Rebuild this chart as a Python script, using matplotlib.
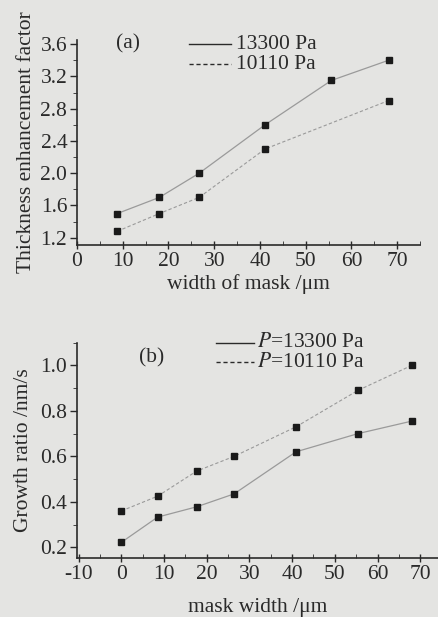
import matplotlib
import matplotlib.pyplot as plt
from matplotlib.ticker import MultipleLocator

matplotlib.use('Agg')

# (a) Thickness enhancement factor
a_x_13300 = [8.8, 18.0, 26.7, 41.1, 55.6, 68.1]
a_y_13300 = [1.50, 1.70, 2.00, 2.60, 3.15, 3.40]
a_x_10110 = [8.8, 18.0, 26.7, 41.1, 68.1]
a_y_10110 = [1.28, 1.50, 1.70, 2.30, 2.90]

# (b) Growth ratio
b_x = [0, 8.5, 17.6, 26.4, 40.9, 55.4, 68.0]
b_y_10110 = [0.36, 0.425, 0.535, 0.60, 0.73, 0.89, 1.00]
b_y_13300 = [0.222, 0.333, 0.378, 0.435, 0.62, 0.70, 0.755]

bg = '#e4e4e2'
ink = '#2a2a2a'
line_c = '#9a9a9a'
fs = 15.5

plt.rcParams.update({
    'font.family': ['Liberation Serif', 'DejaVu Serif'],
    'font.size': fs,
    'mathtext.fontset': 'stix',
    'axes.unicode_minus': False,
    'text.color': ink,
    'axes.labelcolor': ink,
    'xtick.color': ink,
    'ytick.color': ink,
})

fig = plt.figure(figsize=(4.39, 6.17), dpi=100, facecolor=bg)


def style_axes(ax):
    ax.set_facecolor(bg)
    for s in ('top', 'right'):
        ax.spines[s].set_visible(False)
    for s in ('left', 'bottom'):
        ax.spines[s].set_color(ink)
        ax.spines[s].set_linewidth(1.2)
    ax.tick_params(axis='both', which='major', labelsize=fs, width=1.0, pad=2)
    ax.tick_params(axis='x', which='major', direction='inout', length=6)
    ax.tick_params(axis='x', which='minor', direction='in', length=3)
    ax.tick_params(axis='y', which='major', direction='out', length=5)
    ax.tick_params(axis='y', which='minor', direction='out', length=3)


# ---- panel (a)
ax1 = fig.add_axes([0.1754, 0.6029, 0.7816, 0.3321])
style_axes(ax1)
ax1.plot(a_x_13300, a_y_13300, '-', color=line_c, lw=0.9)
ax1.plot(a_x_10110, a_y_10110, '--', color=line_c, lw=0.8, dashes=(3, 2))
ax1.plot(a_x_13300, a_y_13300, 's', color='#1a1a1a', ms=4.5, ls='none')
ax1.plot(a_x_10110, a_y_10110, 's', color='#1a1a1a', ms=4.5, ls='none')
ax1.set_xlim(0, 75)
ax1.set_ylim(1.11, 3.65)
ax1.xaxis.set_major_locator(MultipleLocator(10))
ax1.xaxis.set_minor_locator(MultipleLocator(5))
ax1.yaxis.set_major_locator(MultipleLocator(0.4))
ax1.yaxis.set_minor_locator(MultipleLocator(0.2))
ax1.set_xlabel('width of mask /μm', labelpad=2)
ax1.set_ylabel('Thickness enhancement factor', labelpad=3)
ax1.text(0.115, 0.98, '(a)', transform=ax1.transAxes, va='center', ha='left')
ax1.plot([0.325, 0.45], [0.98, 0.98], '-', color=ink, lw=1.0,
         transform=ax1.transAxes, clip_on=False)
ax1.plot([0.325, 0.45], [0.883, 0.883], '--', color=ink, lw=1.0, dashes=(3, 2),
         transform=ax1.transAxes, clip_on=False)
ax1.text(0.462, 0.98, '13300 Pa', transform=ax1.transAxes, va='center', ha='left')
ax1.text(0.462, 0.883, '10110 Pa', transform=ax1.transAxes, va='center', ha='left')

# ---- panel (b)
ax2 = fig.add_axes([0.1754, 0.0956, 0.8246, 0.349])
style_axes(ax2)
ax2.plot(b_x, b_y_13300, '-', color=line_c, lw=0.9)
ax2.plot(b_x, b_y_10110, '--', color=line_c, lw=0.8, dashes=(3, 2))
ax2.plot(b_x, b_y_13300, 's', color='#1a1a1a', ms=4.5, ls='none')
ax2.plot(b_x, b_y_10110, 's', color='#1a1a1a', ms=4.5, ls='none')
ax2.set_xlim(-10.4, 74.4)
ax2.set_ylim(0.153, 1.10)
ax2.xaxis.set_major_locator(MultipleLocator(10))
ax2.xaxis.set_minor_locator(MultipleLocator(5))
ax2.yaxis.set_major_locator(MultipleLocator(0.2))
ax2.yaxis.set_minor_locator(MultipleLocator(0.1))
ax2.set_xticks(range(-10, 71, 10))
ax2.set_xlabel('mask width /μm', labelpad=10)
ax2.set_ylabel('Growth ratio /nm/s', labelpad=5)
ax2.text(0.17, 0.93, '(b)', transform=ax2.transAxes, va='center', ha='left')
ax2.plot([0.385, 0.49], [0.999, 0.999], '-', color=ink, lw=1.0,
         transform=ax2.transAxes, clip_on=False)
ax2.plot([0.385, 0.49], [0.91, 0.91], '--', color=ink, lw=1.0, dashes=(3, 2),
         transform=ax2.transAxes, clip_on=False)
ax2.text(0.497, 0.999, '$\\mathit{P}$=13300 Pa', transform=ax2.transAxes,
         va='center', ha='left')
ax2.text(0.497, 0.91, '$\\mathit{P}$=10110 Pa', transform=ax2.transAxes,
         va='center', ha='left')

fig.savefig('out.png', dpi=100, facecolor=bg)
